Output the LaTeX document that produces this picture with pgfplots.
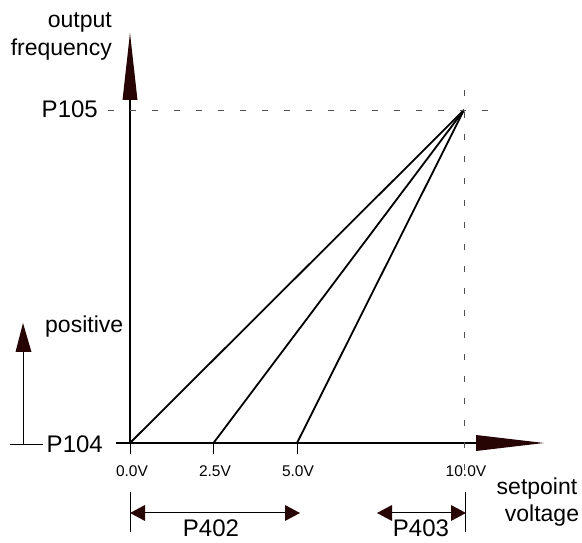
\documentclass[border=0pt]{standalone}
\usepackage{fontspec}
\setmainfont{Liberation Sans}
\usepackage{pgfplots}
\pgfplotsset{compat=1.18}
\definecolor{arr}{RGB}{40,5,5}
\definecolor{dashgray}{RGB}{80,80,80}
\begin{document}
\begin{tikzpicture}
\begin{axis}[scale only axis, width=582pt, height=543pt,
  xmin=-3.892, xmax=13.533, ymin=-3.003, ymax=13.303,
  hide axis, clip=false]
\addplot[black, line width=1.8pt] coordinates {(0,0) (10,10)};
\addplot[black, line width=1.8pt] coordinates {(2.5,0) (10,10)};
\addplot[black, line width=1.8pt] coordinates {(5,0) (10,10)};
\end{axis}
\begin{scope}[x=1pt,y=-1pt,shift={(0pt,543pt)}]
% y axis
\draw[line width=1.2pt] (130,443) -- (130,100);
\fill[arr] (122.5,100) -- (137.5,100) -- (130,33) -- cycle;
% x axis
\draw[line width=1.2pt] (116,443) -- (476,443);
\fill[arr] (476,435) -- (476,451) -- (544,443) -- cycle;
% ticks
\foreach \x in {130,213.5,297} \draw[line width=0.9pt] (\x,443) -- (\x,454);
% dashed guides
\draw[dashgray, line width=0.9pt, dash pattern=on 6pt off 16pt] (108,110) -- (490,110);
\draw[dashgray, line width=0.9pt, dash pattern=on 6pt off 16pt] (464,90) -- (464,470);
% tick labels
\node[font=\fontsize{15.5}{18}\selectfont, inner sep=0, anchor=base] at (132,477) {0.0V};
\node[font=\fontsize{15.5}{18}\selectfont, inner sep=0, anchor=base] at (215,477) {2.5V};
\node[font=\fontsize{15.5}{18}\selectfont, inner sep=0, anchor=base] at (298,477) {5.0V};
\node[font=\fontsize{15.5}{18}\selectfont, inner sep=0, anchor=base] at (466,477) {10.0V};
% labels
\node[font=\fontsize{23}{27}\selectfont, inner sep=0, anchor=base east] at (112,28) {output};
\node[font=\fontsize{23}{27}\selectfont, inner sep=0, anchor=base east] at (112,56) {frequency};
\node[font=\fontsize{24}{28}\selectfont, inner sep=0, anchor=base east] at (98,118) {P105};
\node[font=\fontsize{24}{28}\selectfont, inner sep=0, anchor=base east] at (103,453) {P104};
\node[font=\fontsize{23}{27}\selectfont, inner sep=0, anchor=base west] at (45,333) {positive};
\node[font=\fontsize{23}{27}\selectfont, inner sep=0, anchor=base] at (537,495) {setpoint};
\node[font=\fontsize{23}{27}\selectfont, inner sep=0, anchor=base] at (542,522) {voltage};
% positive arrow
\draw[line width=1pt] (23,445) -- (23,352);
\fill[arr] (15.5,352) -- (31.5,352) -- (23,323) -- cycle;
\draw[line width=1pt] (10,445) -- (43,445);
% P402 dimension
\draw[line width=1pt] (130,492) -- (130,532);
\draw[line width=1pt] (145,513) -- (285,513);
\fill[arr] (145,505) -- (145,521) -- (130,513) -- cycle;
\fill[arr] (285,505) -- (285,521) -- (300,513) -- cycle;
\node[font=\fontsize{24}{28}\selectfont, inner sep=0, anchor=base] at (211,537) {P402};
% P403 dimension
\draw[line width=1pt] (465,492) -- (465,532);
\draw[line width=1pt] (392,513) -- (451,513);
\fill[arr] (392,505) -- (392,521) -- (377,513) -- cycle;
\fill[arr] (451,505) -- (451,521) -- (466,513) -- cycle;
\node[font=\fontsize{24}{28}\selectfont, inner sep=0, anchor=base] at (421,537) {P403};
\end{scope}
\pgfresetboundingbox
\path (0,0) rectangle (582pt,543pt);
\end{tikzpicture}
\end{document}
